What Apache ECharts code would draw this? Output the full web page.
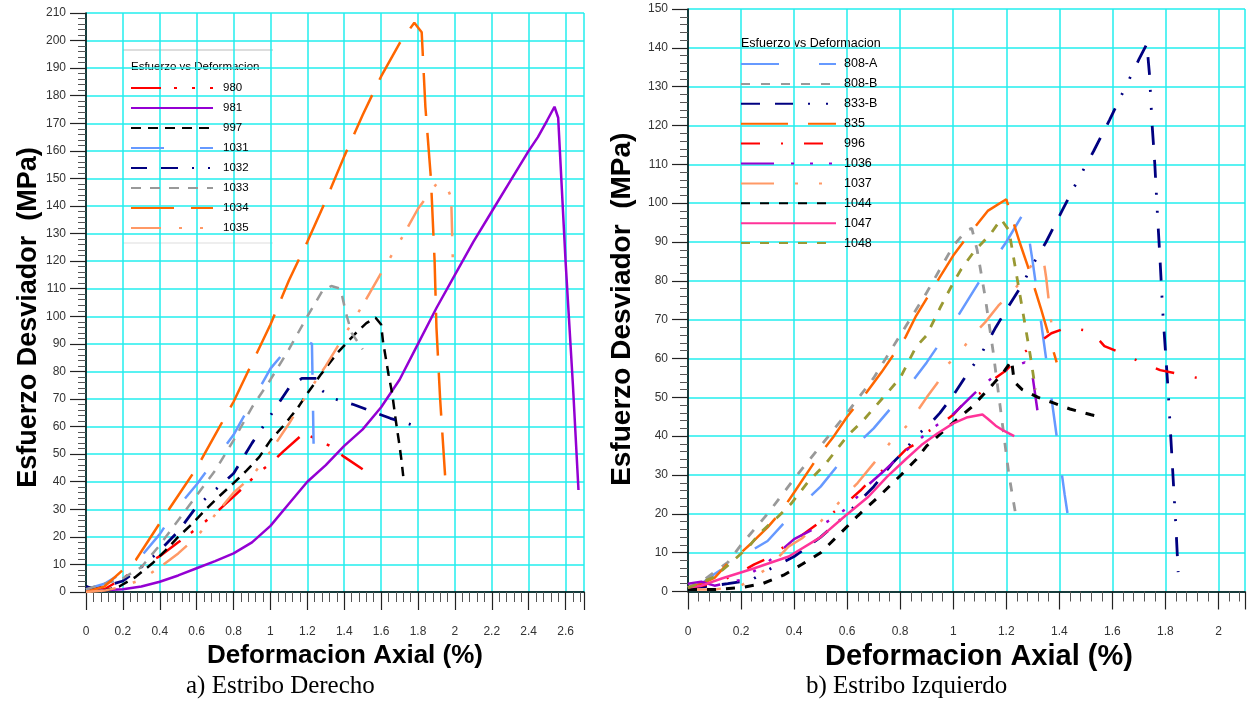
<!DOCTYPE html>
<html>
<head>
<meta charset="utf-8">
<script src="https://cdn.jsdelivr.net/npm/echarts@6/dist/echarts.min.js"></script>
<style>html,body{margin:0;padding:0;background:#fff}#c{width:1247px;height:702px}</style>
</head>
<body>
<div id="c"></div>
<script>
// ---------- Panel a) Estribo Derecho : [deformacion %, esfuerzo MPa] ----------
const s980 = [[0,1],[0.05,1.5],[0.1,1],[0.15,3],[0.27,8],[0.4,13],[0.5,18],[0.6,23],[0.7,28.5],[0.8,34.6],[0.87,39],[0.93,43],[1.0,46.6],[1.07,51],[1.18,57.5],[1.25,55.5],[1.33,52.7],[1.4,49],[1.5,44.5]];
const s981 = [[0,1],[0.05,0.5],[0.2,1],[0.3,2],[0.4,3.7],[0.5,6],[0.6,8.6],[0.7,11.2],[0.8,14],[0.9,18],[1.0,24],[1.1,32],[1.2,40],[1.3,46],[1.4,53],[1.5,59],[1.6,67],[1.7,77],[1.8,90],[1.9,103],[2.0,115],[2.1,127],[2.2,138],[2.3,149],[2.4,160],[2.45,165],[2.5,171],[2.54,176],[2.56,172],[2.6,120],[2.64,75],[2.67,37]];
const s997 = [[0,2],[0.05,1],[0.1,0.5],[0.18,2],[0.27,5.5],[0.36,10.4],[0.43,15],[0.5,20],[0.58,25],[0.65,30],[0.72,34.6],[0.8,39.5],[0.87,44],[0.94,49],[1.0,55],[1.08,61],[1.15,67],[1.2,72],[1.27,78.6],[1.36,86.5],[1.46,93.7],[1.52,97.5],[1.57,99.5],[1.6,97],[1.61,91],[1.64,79],[1.66,72],[1.68,62],[1.7,53],[1.71,48],[1.72,42]];
const s1031 = [[0,1],[0.1,3],[0.2,7],[0.3,13],[0.4,21],[0.5,31],[0.6,39],[0.7,48],[0.8,57],[0.9,69],[1.0,81],[1.1,89],[1.2,91],[1.225,90],[1.23,70],[1.235,49]];
const s1032 = [[0,2],[0.05,1],[0.1,2],[0.2,4],[0.3,9],[0.4,15],[0.5,22],[0.6,31],[0.7,37],[0.8,43],[0.9,54],[1.0,64],[1.1,74],[1.17,77.5],[1.25,77.5],[1.28,73],[1.35,70],[1.45,68],[1.55,65.5],[1.65,63],[1.75,61],[1.83,59]];
const s1033 = [[0,1],[0.05,2],[0.1,3],[0.2,5],[0.3,9],[0.4,17],[0.5,26],[0.6,35],[0.7,44],[0.8,55],[0.9,67],[1.0,77],[1.1,88],[1.2,100],[1.28,109],[1.33,111],[1.38,110],[1.41,101],[1.44,94],[1.5,88]];
const s1034 = [[0,0],[0.05,1],[0.1,2],[0.2,8],[0.27,11.6],[0.4,25],[0.5,35],[0.6,45],[0.7,57],[0.8,69],[0.9,83],[1.0,97],[1.1,113],[1.2,127],[1.3,142],[1.4,158],[1.5,173],[1.6,187],[1.7,199],[1.78,206.5],[1.82,203],[1.84,176],[1.87,150],[1.89,120],[1.9,96],[1.92,70],[1.95,39]];
const s1035 = [[0,0],[0.1,0.5],[0.2,2],[0.3,4.5],[0.4,9],[0.5,14],[0.6,20],[0.7,28],[0.8,36],[0.9,42],[1.0,51],[1.1,61],[1.2,72],[1.3,82],[1.4,93],[1.5,104],[1.6,115.7],[1.7,127],[1.8,139],[1.9,148],[1.95,148],[1.98,143],[1.99,117]];

// ---------- Panel b) Estribo Izquierdo ----------
const s808A = [[0,1],[0.05,2],[0.1,4.5],[0.2,9],[0.3,13],[0.4,20.5],[0.5,27],[0.6,35.5],[0.7,42],[0.8,50],[0.9,59],[1.0,69],[1.1,80],[1.2,90],[1.27,98],[1.3,84.7],[1.34,65],[1.38,45],[1.42,25],[1.44,16]];
const s808B = [[0,1],[0.05,2.5],[0.1,5],[0.15,7.5],[0.2,12],[0.25,16],[0.3,20],[0.4,29],[0.5,37.5],[0.6,46],[0.7,55],[0.8,66],[0.9,77],[0.95,83],[1.0,89],[1.05,93],[1.07,93.5],[1.09,88],[1.12,76],[1.15,62],[1.18,46],[1.21,30],[1.24,18]];
const s833B = [[0,1],[0.06,1.2],[0.15,2],[0.24,3],[0.3,5.5],[0.4,9],[0.5,14],[0.6,20],[0.7,27],[0.77,33],[0.82,36.5],[0.86,40],[0.91,43],[0.95,46],[1.0,50.5],[1.06,56.8],[1.1,60.5],[1.16,68],[1.2,72.5],[1.26,79],[1.29,83],[1.35,90],[1.41,98],[1.47,106],[1.53,113.5],[1.59,121.5],[1.65,130],[1.7,137],[1.73,141],[1.74,133],[1.75,120],[1.76,110],[1.77,97],[1.78,85],[1.79,72],[1.8,62],[1.81,52],[1.82,40],[1.83,28],[1.84,16],[1.848,5]];
const s835 = [[0,1],[0.05,2],[0.1,3.5],[0.16,8],[0.2,10],[0.24,12.5],[0.3,16.5],[0.35,20.5],[0.4,25.5],[0.49,34.7],[0.55,40],[0.6,45],[0.67,51],[0.73,56.5],[0.82,65.5],[0.86,71],[0.95,81],[1.0,86.5],[1.06,92],[1.13,98],[1.2,101],[1.25,90],[1.28,84],[1.33,73],[1.36,66],[1.39,59]];
const s996 = [[0,1],[0.05,1.5],[0.1,2],[0.2,5],[0.25,7],[0.3,8.5],[0.35,11],[0.4,13],[0.45,15.5],[0.5,18],[0.55,20.5],[0.6,23],[0.65,26],[0.7,29.5],[0.77,33],[0.82,36.5],[0.87,38.5],[0.9,41],[0.95,43],[1.0,45.5],[1.04,48.5],[1.1,51],[1.14,54],[1.2,57],[1.26,61.3],[1.32,64],[1.37,66.5],[1.43,68],[1.52,67],[1.57,63.2],[1.63,61.5],[1.7,59.3],[1.78,57],[1.85,56],[1.92,55]];
const s1036 = [[0,2],[0.05,2.5],[0.1,1.5],[0.2,3],[0.3,7.5],[0.4,13.5],[0.5,17],[0.55,19],[0.6,21.5],[0.68,27.5],[0.73,30.5],[0.8,35],[0.87,39],[0.92,42],[1.0,45.7],[1.08,51],[1.12,53.5],[1.17,56.4],[1.27,59],[1.3,55],[1.32,45.4]];
const s1037 = [[0,0.5],[0.1,0.5],[0.2,1.5],[0.3,6],[0.38,11.6],[0.43,13.7],[0.5,18],[0.59,24.4],[0.64,28],[0.7,33],[0.77,39],[0.83,43],[0.87,47],[0.9,50],[0.94,53.7],[0.98,58.5],[1.03,62],[1.07,65.7],[1.12,69.3],[1.17,73.6],[1.22,77],[1.27,81],[1.3,84.7],[1.34,85.6],[1.35,81],[1.36,75],[1.37,69]];
const s1044 = [[0,0.5],[0.1,0.5],[0.2,1],[0.28,2],[0.36,4.2],[0.43,7],[0.5,10],[0.56,14],[0.64,19.5],[0.72,24.5],[0.8,29.8],[0.86,34],[0.9,37.5],[0.95,40.5],[1.0,43.5],[1.07,47.5],[1.15,53.4],[1.19,56.5],[1.22,59.5],[1.23,54],[1.26,52],[1.32,50],[1.38,48.5],[1.44,47],[1.52,45.5],[1.54,45.2]];
const s1047 = [[0,1],[0.05,1.5],[0.13,3.4],[0.25,6],[0.38,9],[0.5,14],[0.59,19.3],[0.68,24.4],[0.75,29.5],[0.82,34],[0.88,37.7],[0.94,40.7],[1.0,43.3],[1.05,44.8],[1.11,45.6],[1.13,44.5],[1.16,42.7],[1.19,41.4],[1.23,40]];
const s1048 = [[0,1],[0.04,2],[0.1,3.8],[0.16,7.3],[0.23,11.6],[0.27,15],[0.34,19.3],[0.39,22.7],[0.45,28],[0.52,33],[0.6,40],[0.66,44],[0.73,49.5],[0.8,55],[0.83,59],[0.86,63],[0.9,66],[0.95,73],[1.0,79.5],[1.03,83],[1.08,87.7],[1.14,92],[1.18,95.9],[1.21,93],[1.22,89],[1.23,85],[1.25,77],[1.27,69],[1.29,61],[1.31,52]];

const namesA = ['980','981','997','1031','1032','1033','1034','1035'];
const namesB = ['808-A','808-B','833-B','835','996','1036','1037','1044','1047','1048'];
const xLabel = 'Deformacion Axial (%)';
const yLabel = 'Esfuerzo Desviador  (MPa)';
const legendTitle = 'Esfuerzo vs Deformacion';
const captionA = 'a) Estribo Derecho';
const captionB = 'b) Estribo Izquierdo';

const FONT = '"Liberation Sans", Arial, sans-serif';
const SERIF = '"Liberation Serif", "Times New Roman", serif';

const styleA = {
  '980':  {c:'#FF0000', t:[30,13,3,15,3,15], w:2.5},
  '981':  {c:'#9400D3', t:'solid', w:2.5},
  '997':  {c:'#000000', t:[10,7], w:2.5},
  '1031': {c:'#6699FF', t:[33,36], w:2.5},
  '1032': {c:'#000080', t:[16,14,17,14,2,14,2,14], w:2.8},
  '1033': {c:'#999999', t:[10,9], w:2.5},
  '1034': {c:'#FF6600', t:[43,17], w:2.5},
  '1035': {c:'#FF9966', t:[30,18,3,18,3,12], w:2.5}
};
const styleB = {
  '808-A': {c:'#6699FF', t:[38,40], w:2.5},
  '808-B': {c:'#999999', t:[9,11], w:2.8},
  '833-B': {c:'#000080', t:[19,15,18,15,2,16,2,16], w:2.8},
  '835':   {c:'#FF6600', t:[47,20], w:2.5},
  '996':   {c:'#FF0000', t:[19,21,2,21], w:2.5},
  '1036':  {c:'#9900CC', t:[33,17,3,16,3,16,3,17], w:2.5},
  '1037':  {c:'#FF9966', t:[33,21,3,21,3,21], w:2.5},
  '1044':  {c:'#000000', t:[9,10], w:3},
  '1047':  {c:'#FF3399', t:'solid', w:2.5},
  '1048':  {c:'#999933', t:[9,10], w:2.8}
};
const dataA = {'980':s980,'981':s981,'997':s997,'1031':s1031,'1032':s1032,'1033':s1033,'1034':s1034,'1035':s1035};
const dataB = {'808-A':s808A,'808-B':s808B,'833-B':s833B,'835':s835,'996':s996,'1036':s1036,'1037':s1037,'1044':s1044,'1047':s1047,'1048':s1048};

function mk(name, data, st, idx) {
  return {
    name: name, type: 'line', data: data, xAxisIndex: idx, yAxisIndex: idx,
    symbol: 'none', smooth: false, animation: false,
    lineStyle: {color: st.c, width: st.w, type: st.t, cap: 'butt'},
    itemStyle: {color: st.c}
  };
}
const series = [];
namesA.forEach(n => series.push(mk(n, dataA[n], styleA[n], 0)));
namesB.forEach(n => series.push(mk(n, dataB[n], styleB[n], 1)));

const gridColor = '#22EEEE';
function xAxis(idx, max, fs, gap, padL) {
  return {
    gridIndex: idx, type: 'value', min: 0, max: max, interval: 0.2,
    name: xLabel, nameLocation: 'middle', nameGap: gap,
    nameTextStyle: {fontFamily: FONT, fontWeight: 'bold', fontSize: fs, color: '#000', padding: [0,0,0,padL]},
    axisLine: {show: true, onZero: false, lineStyle: {color: '#000', width: 1.5}},
    axisTick: {show: true, inside: false, length: 18, lineStyle: {color: '#222', width: 1.2}},
    minorTick: {show: true, splitNumber: 5, length: 10, lineStyle: {color: '#555', width: 1}},
    axisLabel: {fontFamily: FONT, fontSize: 12, color: '#333', margin: 34, showMaxLabel: false,
      formatter: v => String(Math.round(v*10)/10)},
    splitLine: {show: true, lineStyle: {color: gridColor, width: 1.5}},
    minorSplitLine: {show: false}
  };
}
function yAxis(idx, max, fs, gap, padR) {
  return {
    gridIndex: idx, type: 'value', min: 0, max: max, interval: 10,
    name: yLabel, nameLocation: 'middle', nameGap: gap, nameRotate: 90,
    nameTextStyle: {fontFamily: FONT, fontWeight: 'bold', fontSize: fs, color: '#000', padding: [0,padR,0,0]},
    axisLine: {show: true, onZero: false, lineStyle: {color: '#000', width: 1.5}},
    axisTick: {show: true, inside: false, length: 16, lineStyle: {color: '#222', width: 1.2}},
    minorTick: {show: true, splitNumber: 5, length: 8, lineStyle: {color: '#555', width: 1}},
    axisLabel: {fontFamily: FONT, fontSize: 12, color: '#333', margin: 20},
    splitLine: {show: true, lineStyle: {color: gridColor, width: 1.5}},
    minorSplitLine: {show: false}
  };
}

const legendCommon = {
  orient: 'vertical', padding: 0, selectedMode: false,
  itemStyle: {opacity: 0, borderWidth: 0}
};

const chart = echarts.init(document.getElementById('c'), null, {renderer: 'canvas'});
chart.setOption({
  animation: false,
  backgroundColor: '#fff',
  grid: [
    {left: 86, top: 13, width: 498, height: 579},
    {left: 688, top: 9, width: 557, height: 582.5}
  ],
  xAxis: [xAxis(0, 2.7, 26, 50, 20), xAxis(1, 2.1, 29, 49, 25)],
  yAxis: [yAxis(0, 210, 27, 43, 30), yAxis(1, 150, 28, 52, 18)],
  legend: [
    Object.assign({data: namesA, left: 130, top: 82, itemWidth: 82, itemHeight: 10, itemGap: 8,
      textStyle: {fontFamily: FONT, fontSize: 11.5, color: '#000', padding: [0,0,0,5]}}, legendCommon),
    Object.assign({data: namesB, left: 740, top: 57.5, itemWidth: 95, itemHeight: 10, itemGap: 6.9,
      textStyle: {fontFamily: FONT, fontSize: 12.5, color: '#000', padding: [0,0,0,3]}}, legendCommon)
  ],
  graphic: [
    {type: 'line', shape: {x1: 123, y1: 50, x2: 273, y2: 50}, style: {stroke: '#bbb', lineWidth: 1}},
    {type: 'line', shape: {x1: 123, y1: 243, x2: 273, y2: 243}, style: {stroke: '#ddd', lineWidth: 1}},
    {type: 'text', left: 131, top: 61, style: {text: legendTitle, font: '11.5px ' + FONT, fill: '#000'}},
    {type: 'text', left: 741, top: 37, style: {text: legendTitle, font: '12.5px ' + FONT, fill: '#000'}},
    {type: 'text', left: 186, top: 674, style: {text: captionA, font: '25px ' + SERIF, fill: '#000'}},
    {type: 'text', left: 806, top: 674, style: {text: captionB, font: '25px ' + SERIF, fill: '#000'}}
  ],
  series: series
});
</script>
</body>
</html>
